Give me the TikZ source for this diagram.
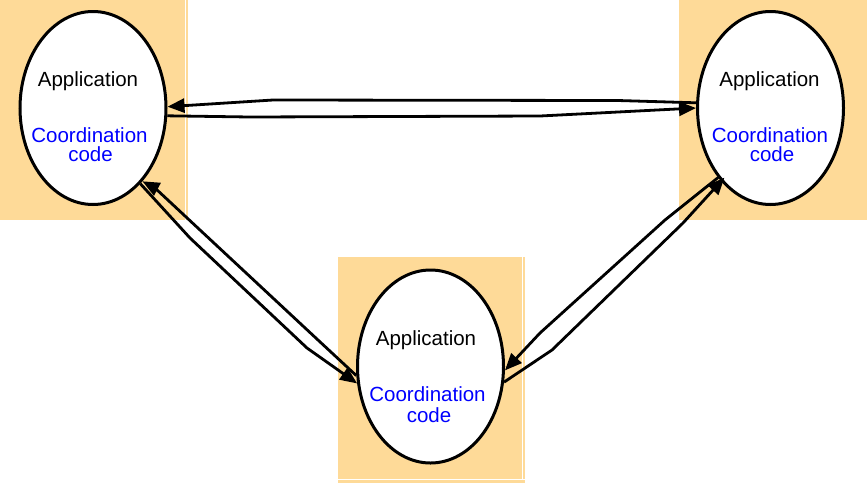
\documentclass[tikz,border=0pt]{standalone}
\usepackage{fontspec}
\setmainfont{Liberation Sans}
\usetikzlibrary{arrows.meta,shapes.geometric}
\definecolor{boxorange}{RGB}{254,218,152}
\definecolor{codeblue}{RGB}{0,0,255}
\tikzset{
  bgbox/.style={fill=boxorange, draw=none},
  ell/.style={ellipse, draw=black, fill=white, line width=3pt, inner sep=0pt,
              minimum width=146pt, minimum height=193pt},
  apptext/.style={anchor=base, inner sep=0pt, text=black,
                  font=\fontsize{20.5}{24}\selectfont},
  cctext/.style={anchor=base, inner sep=0pt, text=codeblue,
                 font=\fontsize{20.5}{24}\selectfont},
  conn/.style={draw=black, line width=2.8pt, line join=round,
               -{Triangle[length=17pt,width=14pt]}},
  gapline/.style={draw=white, line width=1pt}
}
\begin{document}
\begin{tikzpicture}[x=1pt,y=-1pt]
\useasboundingbox (0,0) rectangle (867,483);
% background boxes
\fill[bgbox] (0,0) rectangle (188,220);
\draw[gapline] (185,0) -- (185,220);
\fill[bgbox] (679,0) rectangle (867,220);
\fill[bgbox] (338,257) rectangle (525,483);
\draw[gapline] (522.5,257) -- (522.5,480);
\draw[gapline] (338,479.5) -- (525,479.5);
% ellipses
\node[ell] (L) at (93,108) {};
\node[ell] (R) at (770.5,108) {};
\node[ell] (B) at (430.5,366.5) {};
% texts
\node[apptext] (La) at (88,86) {Application};
\node[cctext] (Lc) at (89.5,142) {Coordination};
\node[cctext] (Ld) at (90.5,161) {code};
\node[apptext] (Ra) at (769.5,86) {Application};
\node[cctext] (Rc) at (770,142) {Coordination};
\node[cctext] (Rd) at (772,161) {code};
\node[apptext] (Ba) at (426,345) {Application};
\node[cctext] (Bc) at (427.5,401.5) {Coordination};
\node[cctext] (Bd) at (429,422.5) {code};
% waypoints
\coordinate (t1) at (618,100.5);
\coordinate (t2) at (273,100);
\coordinate (t3) at (250,117);
\coordinate (t4) at (540,116);
\coordinate (l0) at (190,238);
\coordinate (l1) at (307,348);
\coordinate (l2) at (318,340);
\coordinate (l3) at (200,230);
\coordinate (l4) at (155,188);
\coordinate (r1) at (665,220);
\coordinate (r2) at (540,333);
\coordinate (r3) at (552,350);
\coordinate (r4) at (683,223);
% connectors
\draw[conn] (R.176) -- (t1) -- (t2) -- (L.1);
\draw[conn] (L.-6) -- (t3) -- (t4) -- (R.180);
\draw[conn] (L.-58) -- (l0) -- (l1) -- (B.193);
\draw[conn] (B.187) -- (l2) -- (l3) -- (l4) -- (L.-56);
\draw[conn] (R.-127.5) -- (r1) -- (r2) -- (B.-3);
\draw[conn, shorten >=-5pt] (B.-12) -- (r3) -- (r4) -- (R.-124);
\end{tikzpicture}
\end{document}
